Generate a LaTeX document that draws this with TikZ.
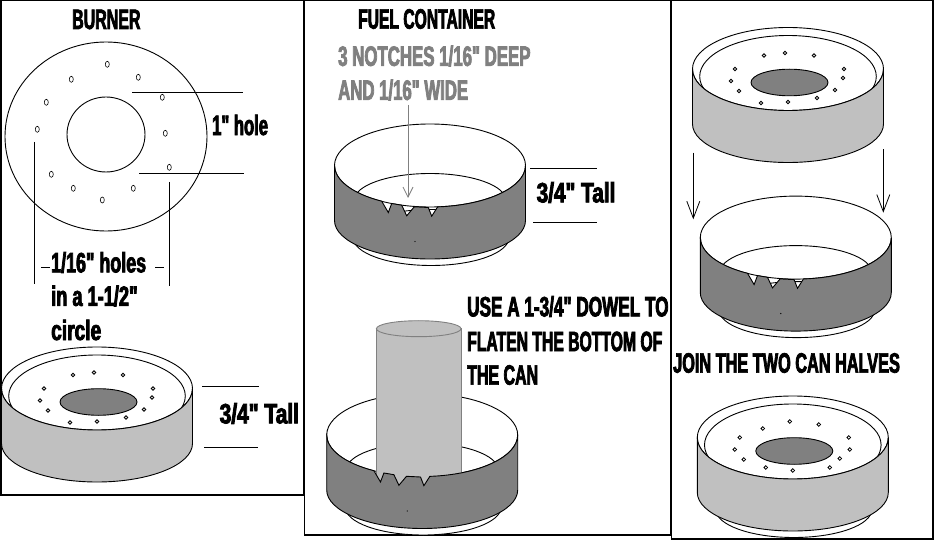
\documentclass[tikz,border=0pt]{standalone}
\usepackage{fontspec}
\usepackage{graphicx}
\newfontfamily\notefont[FakeStretch=0.57,FakeBold=2.5]{Liberation Sans}
\usetikzlibrary{arrows.meta}
\newcommand{\holesleft}{-24/-13.5, -3/-16, 26/-13.5, 56/0, 55/9, 47/21, 29/29, 0/33, -27/34, -49/22, -57/12, -53/0}
\newcommand{\holesright}{-3/-16, 26/-13, 56/0, 57/12, 47/21, 37/30, 0/33, -27/30, -49/22, -58/12, -53/0, -30/-9}
\begin{document}
\begin{tikzpicture}[x=1pt, y=-1pt]
    % Define can colours
    \definecolor{canlight}{RGB}{192,192,192}
    \definecolor{candark}{RGB}{128,128,128}

    % Define styles
    \tikzset{
        panel/.style={draw=black, line width=1.5pt},
        canline/.style={draw=black, line width=0.9pt},
        dimline/.style={draw=black, line width=0.8pt},
        notetext/.style={font=\notefont\bfseries\fontsize{28}{28}\selectfont, anchor=west, inner sep=0pt},
        arrowlong/.style={draw=black, line width=0.8pt, -{Straight Barb[length=17pt, width=13pt]}},
        arrowgray/.style={draw=candark, line width=0.8pt, -{Straight Barb[length=10pt, width=10pt]}},
        pics/canbase/.style={code={
            \path[canline, fill=white] (1,72) ellipse [x radius=78, y radius=28];
        }},
        pics/burnercan/.style={code={
            \path[canline, fill=white] (0,0) ellipse [x radius=95.5, y radius=41.5];
            \path[canline] (0,7.5) ellipse [x radius=88.3, y radius=41];
            \path[canline, fill=candark] (1.5,13.5) ellipse [x radius=38.5, y radius=13.3];
            \foreach \hx/\hy in #1 {
                \path[draw=black, line width=0.8pt, fill=white] (\hx,\hy) circle [radius=1.8];
            }
            \path[canline, fill=canlight] (-95.5,0) -- (-95.5,55)
                arc [start angle=180, end angle=0, x radius=95.5, y radius=38.5] -- (95.5,0)
                arc [start angle=0, end angle=180, x radius=95.5, y radius=41.5] -- cycle;
        }},
        pics/fuelback/.style={code={
            \path[canline, fill=white] (0,0) ellipse [x radius=95.5, y radius=41.5];
            \path[canline] (0,35) ellipse [x radius=76, y radius=27];
        }},
        pics/fuelfront/.style={code={
            \path[canline, fill=candark] (-95.5,0) -- (-95.5,55)
                arc [start angle=180, end angle=0, x radius=95.5, y radius=38.5] -- (95.5,0)
                arc [start angle=0, end angle=85.4, x radius=95.5, y radius=41.5]
                -- (1.7,50.7) -- (-1.7,42) -- (-15.7,41.3) -- (-23.3,50.3) -- (-28.3,39.7)
                -- (-38.3,38) -- (-41.7,47) -- (-48.3,35.7)
                arc [start angle=120.4, end angle=180, x radius=95.5, y radius=41.5] -- cycle;
            \fill[black] (-15,76) circle [radius=0.7];
        }}
    }

    \useasboundingbox (0,0) rectangle (938,540);
    \fill[white] (0,0) rectangle (938,540);

    % Panels
    \draw[panel] (1,0.5) rectangle (304,495);
    \draw[panel] (304.5,0.5) rectangle (671,535);
    \draw[panel] (671.5,0.5) rectangle (933,539);

    % Burner seen from above
    \node[notetext] (burnertitle) at (72,19.5) {BURNER};
    \draw[canline] (106,136.5) ellipse [x radius=101, y radius=94.5];
    \draw[canline] (106,134.5) ellipse [x radius=39, y radius=37.5];
    \foreach \hx/\hy in {107.3/64.3, 138.3/77.3, 162.3/97.3, 165.3/133.3, 169.3/167.3, 133.3/188.3,
                         102.3/200, 73.3/188.3, 51.3/174.3, 37.3/129.3, 46.3/102.3, 71.3/79.3} {
        \draw[line width=0.6pt] (\hx,\hy) ellipse [x radius=2, y radius=3];
    }
    \draw[dimline] (132,92) -- (243,92);
    \draw[dimline] (139,173) -- (244,173);
    \draw[dimline] (34,142) -- (34,284);
    \draw[dimline] (169,182) -- (169,286);
    \draw[dimline] (41,267) -- (50,267);
    \draw[dimline] (155,267) -- (164,267);
    \node[notetext] (holesize) at (212,125) {\scalebox{1.04}[1]{1" hole}};
    \node[notetext] (holesline1) at (51,262.5) {\scalebox{1.12}[1]{1/16" holes}};
    \node[notetext] (holesline2) at (51,296) {\scalebox{1.14}[1]{in a 1-1/2"}};
    \node[notetext] (holesline3) at (51,330) {\scalebox{1.2}[1]{circle}};

    % Burner can
    \pic at (97,388.5) {burnercan={\holesleft}};
    \draw[dimline] (202,386) -- (259,386);
    \draw[dimline] (204,447.3) -- (258,447.3);
    \node[notetext] (burnertall) at (219.5,413.5) {\scalebox{1.31}[1]{3/4" Tall}};

    % Fuel container
    \node[notetext] (fueltitle) at (358,19) {\scalebox{0.98}[1]{FUEL CONTAINER}};
    \node[notetext, candark] (notchline1) at (338,56) {\scalebox{1.055}[1]{3 NOTCHES 1/16" DEEP}};
    \node[notetext, candark] (notchline2) at (338,90) {\scalebox{1.05}[1]{AND 1/16" WIDE}};
    \pic at (430,165.5) {canbase};
    \pic at (430,165.5) {fuelback};
    \pic at (430,165.5) {fuelfront};
    \coordinate (notchstart) at (408,105);
    \coordinate (notchend) at (408,198);
    \draw[arrowgray] (notchstart) -- (notchend);
    \draw[dimline] (530,168) -- (597,168);
    \draw[dimline] (533,222.3) -- (597,222.3);
    \node[notetext] (fueltall) at (536.5,192.5) {\scalebox{1.3}[1]{3/4" Tall}};

    % Dowel
    \node[notetext] (dowelline1) at (467,306.5) {\scalebox{1.075}[1]{USE A 1-3/4" DOWEL TO}};
    \node[notetext] (dowelline2) at (467,341.5) {\scalebox{0.985}[1]{FLATEN THE BOTTOM OF}};
    \node[notetext] (dowelline3) at (467,375) {THE CAN};
    \pic at (422.2,435) {canbase};
    \pic at (422.2,435) {fuelback};
    \path[draw=candark, line width=0.9pt, fill=canlight] (376.3,328.7) -- (376.3,490) -- (461,490) -- (461,328.7) -- cycle;
    \path[draw=candark, line width=0.9pt, fill=canlight] (418.7,328.7) ellipse [x radius=42.3, y radius=8];
    \pic at (422.2,435) {fuelfront};

    % Joining the halves
    \pic at (788,69) {burnercan={\holesleft}};
    \pic at (795.8,237.6) {canbase};
    \pic at (795.8,237.6) {fuelback};
    \pic at (795.8,237.6) {fuelfront};
    \coordinate (joinlstart) at (693.3,152.7);
    \coordinate (joinlend) at (693.3,219.3);
    \coordinate (joinrstart) at (883.3,149.3);
    \coordinate (joinrend) at (883.3,212.7);
    \draw[arrowlong] (joinlstart) -- (joinlend);
    \draw[arrowlong] (joinrstart) -- (joinrend);
    \node[notetext] (jointext) at (673,363) {\scalebox{1.02}[1]{JOIN THE TWO CAN HALVES}};
    \pic at (792.8,437.5) {canbase};
    \pic at (792.8,437.5) {burnercan={\holesright}};

\end{tikzpicture}
\end{document}
